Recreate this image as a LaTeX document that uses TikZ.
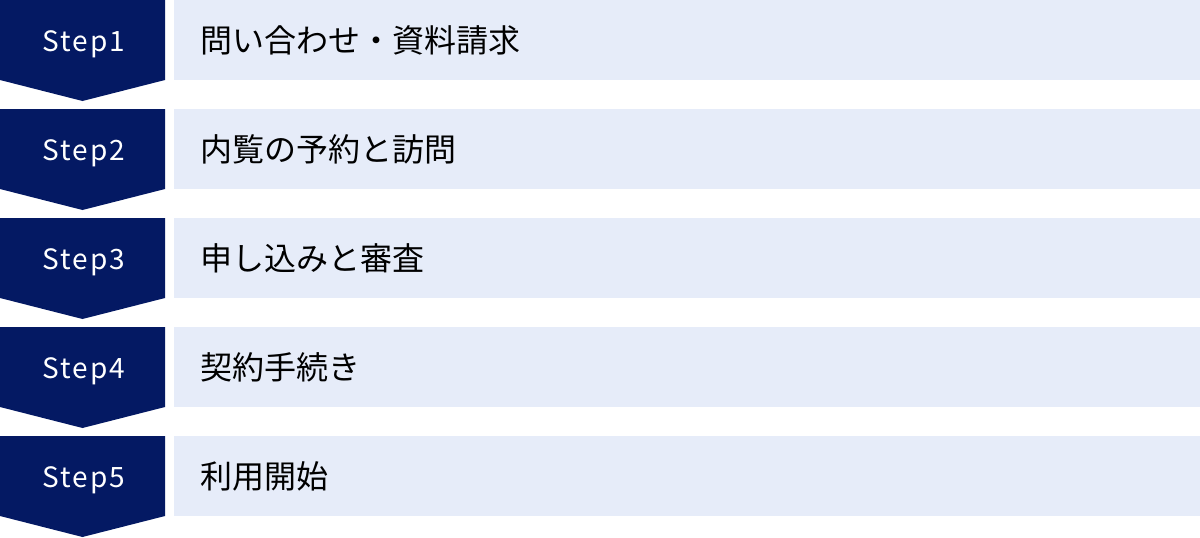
\documentclass[tikz,border=0pt]{standalone}
\usepackage{fontspec}
\setmainfont{Noto Sans CJK JP}
\newfontfamily\stepfont[LetterSpace=7]{Noto Sans CJK JP}
\usetikzlibrary{positioning}
\definecolor{stepnavy}{RGB}{4,25,99}
\definecolor{steppale}{RGB}{230,236,249}
\begin{document}
\begin{tikzpicture}[x=1pt,y=-1pt]
\tikzset{
	stepbox/.style={fill=steppale,anchor=north west,inner sep=0,minimum width=1026pt,minimum height=80pt},
	steplabel/.style={text=white,anchor=base,inner sep=0,font=\stepfont\fontsize{28}{30}\selectfont},
	steptext/.style={anchor=west,inner sep=0,font=\fontsize{32}{35}\selectfont}
}
\useasboundingbox (0,0) rectangle (1200,538);
\foreach \i/\txt in {1/問い合わせ・資料請求,2/内覧の予約と訪問,3/申し込みと審査,4/契約手続き,5/利用開始} {
	\pgfmathsetmacro{\ytop}{(\i-1)*109}
	\fill[stepnavy] (0,\ytop) -- (165,\ytop) -- (165,\ytop+80) -- (82.5,\ytop+101) -- (0,\ytop+80) -- cycle;
	\node[steplabel] (step\i) at (84,\ytop+51.5) {Step\i};
	\node[stepbox] (box\i) at (174,\ytop) {};
	\node[steptext] (text\i) at (200,\ytop+40) {\txt};
}
\end{tikzpicture}
\end{document}
